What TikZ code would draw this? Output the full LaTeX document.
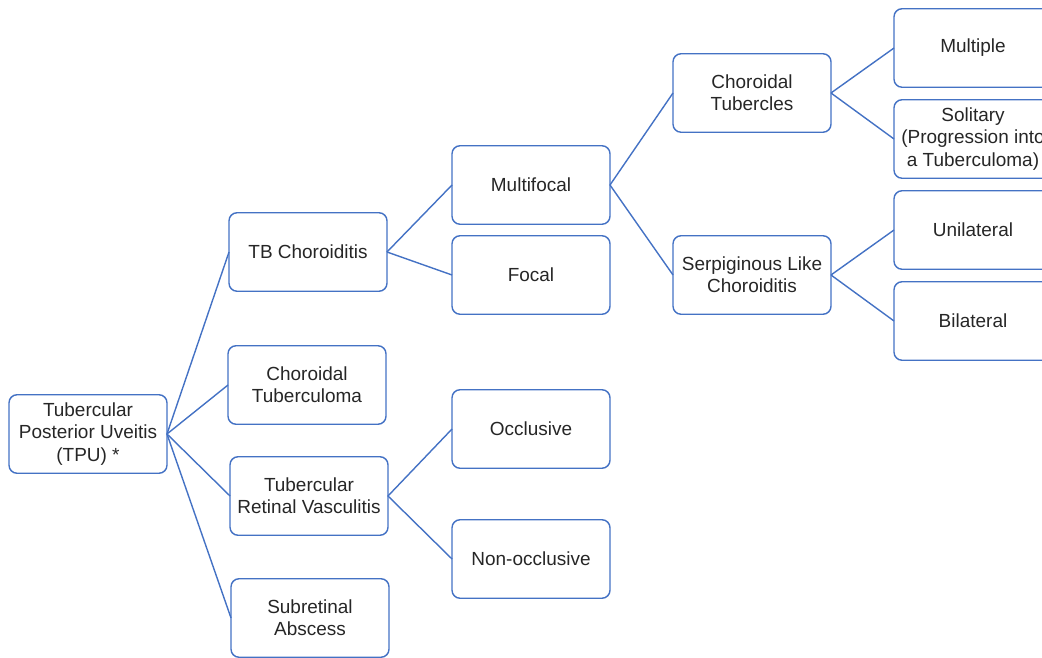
\documentclass[tikz,border=0pt]{standalone}
\usepackage{fontspec}
\setmainfont{Liberation Sans}
\usepackage{xcolor}
\usetikzlibrary{positioning}
\definecolor{boxBlue}{RGB}{68,114,196}
\definecolor{txtGray}{RGB}{38,38,38}

\begin{document}
\begin{tikzpicture}[x=0.02cm,y=-0.02cm,
    font=\fontsize{10.8}{12.6}\selectfont,
    cbox/.style={draw=boxBlue,line width=0.8pt,rounded corners=0.16cm,
      minimum width=3.16cm,minimum height=1.57cm,align=center,
      text=txtGray,inner sep=2pt,outer sep=0pt},
    link/.style={draw=boxBlue,line width=0.8pt}]
  \useasboundingbox (0,0) rectangle (1042,658);
  % level 0
  \node[cbox] (root) at (88,434) {Tubercular\\Posterior Uveitis\\(TPU) *};
  % level 1
  \node[cbox] (tbchor) at (308,252) {TB Choroiditis};
  \node[cbox] (chtbma) at (307,385) {Choroidal\\Tuberculoma};
  \node[cbox] (trv)    at (309,496) {Tubercular\\Retinal Vasculitis};
  \node[cbox] (subab)  at (310,618) {Subretinal\\Abscess};
  % level 2
  \node[cbox] (multif)  at (531,185) {Multifocal};
  \node[cbox] (focal)   at (531,275) {Focal};
  \node[cbox] (occl)    at (531,429) {Occlusive};
  \node[cbox] (nonoccl) at (531,559) {Non-occlusive};
  % level 3
  \node[cbox] (chtbcl) at (752,93)  {Choroidal\\Tubercles};
  \node[cbox] (serp)   at (752,275) {Serpiginous Like\\Choroiditis};
  % level 4 (cut at the right edge)
  \node[cbox] (multiple) at (973,48)  {Multiple};
  \node[cbox] (solitary) at (973,139) {Solitary\\(Progression into\\a Tuberculoma)};
  \node[cbox] (unilat)   at (973,230) {Unilateral};
  \node[cbox] (bilat)    at (973,321) {Bilateral};
  % connectors
  \foreach \c in {tbchor,chtbma,trv,subab}{
    \draw[link] (root.east) -- (\c.west);
  }
  \draw[link] (tbchor.east) -- (multif.west);
  \draw[link] (tbchor.east) -- (focal.west);
  \draw[link] (trv.east) -- (occl.west);
  \draw[link] (trv.east) -- (nonoccl.west);
  \draw[link] (multif.east) -- (chtbcl.west);
  \draw[link] (multif.east) -- (serp.west);
  \draw[link] (chtbcl.east) -- (multiple.west);
  \draw[link] (chtbcl.east) -- (solitary.west);
  \draw[link] (serp.east) -- (unilat.west);
  \draw[link] (serp.east) -- (bilat.west);
\end{tikzpicture}
\end{document}
